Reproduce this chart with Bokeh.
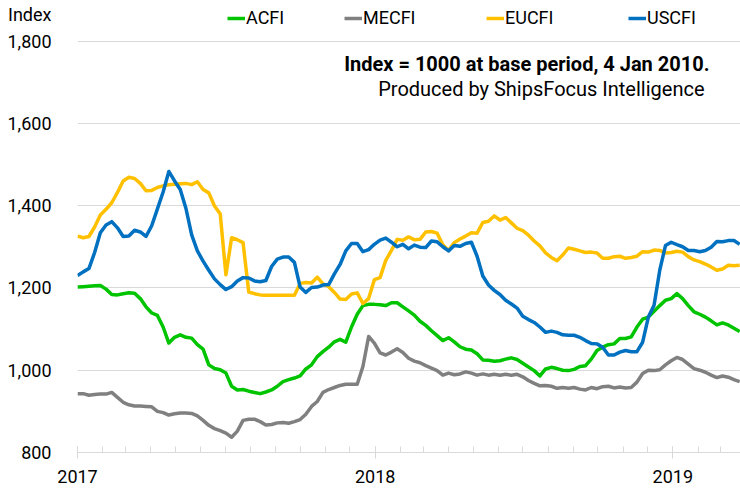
import pandas as pd
from bokeh.plotting import figure
from bokeh.models import (Range1d, FixedTicker, NumeralTickFormatter, DatetimeTickFormatter,
                          Label, Legend, LegendItem)
from bokeh.embed import file_html
from bokeh.resources import INLINE

# ---- data (weekly) ----
dates = pd.date_range("2017-01-01", periods=117, freq="7D")

acfi = [1202, 1203, 1204, 1205, 1206, 1197, 1184, 1183, 1186, 1188,
        1187, 1174, 1154, 1139, 1133, 1105, 1066, 1080, 1086, 1080,
        1078, 1062, 1051, 1013, 1004, 1001, 993, 961, 952, 953,
        949, 946, 943, 947, 952, 961, 972, 977, 981, 986,
        1003, 1013, 1033, 1045, 1056, 1069, 1075, 1068, 1105, 1136,
        1157, 1160, 1160, 1159, 1157, 1164, 1164, 1154, 1144, 1134,
        1119, 1109, 1096, 1084, 1072, 1079, 1069, 1057, 1051, 1049,
        1040, 1025, 1024, 1022, 1023, 1027, 1030, 1026, 1017, 1008,
        999, 986, 1003, 1007, 1004, 1000, 999, 1002, 1009, 1011,
        1027, 1048, 1056, 1062, 1064, 1077, 1077, 1081, 1105, 1124,
        1129, 1143, 1157, 1170, 1174, 1186, 1174, 1157, 1142, 1136,
        1129, 1120, 1110, 1115, 1110, 1102, 1094]

mecfi = [943, 943, 939, 941, 942, 942, 946, 934, 922, 916,
         913, 913, 912, 911, 900, 897, 891, 894, 896, 896,
         895, 889, 878, 866, 858, 853, 847, 837, 852, 878,
         881, 881, 875, 867, 868, 872, 873, 871, 875, 880,
         893, 912, 924, 946, 953, 958, 963, 966, 966, 966,
         1009, 1082, 1066, 1042, 1037, 1044, 1052, 1043, 1029, 1022,
         1018, 1011, 1005, 999, 988, 993, 989, 991, 996, 993,
         988, 991, 988, 990, 988, 990, 988, 990, 984, 975,
         968, 962, 963, 961, 956, 958, 956, 958, 954, 952,
         958, 955, 960, 961, 957, 959, 957, 958, 971, 992,
         1000, 999, 1001, 1013, 1023, 1031, 1026, 1015, 1004, 1000,
         995, 988, 982, 986, 983, 977, 972]

eucfi = [1326, 1322, 1325, 1348, 1377, 1391, 1407, 1432, 1460, 1469,
         1466, 1454, 1436, 1437, 1444, 1448, 1451, 1452, 1453, 1454,
         1451, 1458, 1439, 1431, 1399, 1380, 1232, 1322, 1317, 1310,
         1190, 1186, 1183, 1182, 1182, 1182, 1182, 1182, 1182, 1211,
         1213, 1212, 1226, 1210, 1203, 1189, 1173, 1172, 1185, 1188,
         1162, 1174, 1220, 1225, 1267, 1291, 1318, 1316, 1324, 1317,
         1318, 1336, 1337, 1333, 1305, 1291, 1310, 1319, 1326, 1334,
         1333, 1359, 1362, 1375, 1365, 1371, 1358, 1345, 1339, 1328,
         1314, 1302, 1285, 1274, 1266, 1280, 1297, 1294, 1290, 1286,
         1287, 1285, 1272, 1272, 1276, 1277, 1272, 1274, 1277, 1288,
         1287, 1292, 1291, 1285, 1286, 1289, 1287, 1276, 1268, 1264,
         1258, 1251, 1243, 1246, 1255, 1254, 1255]

uscfi = [1230, 1239, 1247, 1286, 1334, 1353, 1361, 1346, 1325, 1326,
         1340, 1336, 1325, 1351, 1392, 1433, 1483, 1460, 1439, 1393,
         1329, 1290, 1265, 1243, 1222, 1208, 1196, 1203, 1217, 1225,
         1224, 1217, 1215, 1218, 1252, 1270, 1275, 1275, 1262, 1202,
         1189, 1201, 1202, 1207, 1208, 1234, 1257, 1290, 1308, 1308,
         1288, 1293, 1306, 1316, 1321, 1311, 1300, 1306, 1295, 1304,
         1299, 1298, 1314, 1312, 1300, 1290, 1303, 1301, 1308, 1311,
         1277, 1229, 1207, 1194, 1184, 1170, 1161, 1151, 1131, 1123,
         1116, 1105, 1092, 1095, 1092, 1086, 1085, 1085, 1080, 1072,
         1065, 1064, 1056, 1037, 1037, 1044, 1048, 1045, 1045, 1068,
         1129, 1158, 1243, 1303, 1311, 1305, 1300, 1291, 1291, 1288,
         1291, 1299, 1313, 1312, 1315, 1315, 1306]

series_names = ["ACFI", "MECFI", "EUCFI", "USCFI"]
series_values = [acfi, mecfi, eucfi, uscfi]
series_colors = ["#00C400", "#808080", "#FFC000", "#0070C0"]

y_ticks = [800, 1000, 1200, 1400, 1600, 1800]
y_unit_label = "Index"
year_ticks = ["2017-01-01", "2018-01-01", "2019-01-01"]
x_start, x_end = "2017-01-01", "2019-03-25"

FONT = "Roboto"

def ms(s):
    return pd.Timestamp(s).value // 10**6

# frame: left 77, bottom 452, top 0 (800 -> 452px, 1800 -> ~40.5px)
Y_TOP = 1898.5
INDEX_POS = 1864.0

p = figure(width=740, height=491, x_axis_type="datetime",
           output_backend="svg", toolbar_location=None,
           x_range=Range1d(ms(x_start), ms(x_end)),
           y_range=Range1d(y_ticks[0], Y_TOP),
           min_border_left=77, min_border_right=0,
           min_border_top=0, min_border_bottom=39)
p.outline_line_color = None
p.background_fill_color = "white"
p.border_fill_color = "white"
p.xgrid.visible = False
p.ygrid.ticker = FixedTicker(ticks=y_ticks)
p.ygrid.grid_line_color = "#d9d9d9"
p.ygrid.grid_line_width = 1

# y axis (the "Index" unit label sits as the top label)
p.yaxis.ticker = FixedTicker(ticks=y_ticks + [INDEX_POS])
p.yaxis.formatter = NumeralTickFormatter(format="0,0")
p.yaxis.major_label_overrides = {INDEX_POS: y_unit_label}
p.yaxis.axis_line_color = None
p.yaxis.major_tick_line_color = None
p.yaxis.minor_tick_line_color = None
p.yaxis.major_label_standoff = 20
p.yaxis.major_label_text_font = FONT
p.yaxis.major_label_text_font_size = "18px"
p.yaxis.major_label_text_color = "#000000"

# x axis
month_ticks = [ms(d) for d in pd.date_range(x_start, x_end, freq="MS")]
p.xaxis.ticker = FixedTicker(ticks=[ms(d) for d in year_ticks], minor_ticks=month_ticks)
p.xaxis.formatter = DatetimeTickFormatter(years="%Y", months="%Y", days="%Y",
                                          hours="%Y", minutes="%Y", seconds="%Y",
                                          milliseconds="%Y")
p.xaxis.axis_line_color = "#d9d9d9"
p.xaxis.major_tick_line_color = "#d9d9d9"
p.xaxis.minor_tick_line_color = "#d9d9d9"
p.xaxis.major_tick_in = 6
p.xaxis.major_tick_out = 6
p.xaxis.minor_tick_in = 6
p.xaxis.minor_tick_out = 0
p.xaxis.major_label_standoff = 11
p.xaxis.major_label_text_font = FONT
p.xaxis.major_label_text_font_size = "18px"
p.xaxis.major_label_text_color = "#000000"

renderers = []
for name, vals, col in zip(series_names, series_values, series_colors):
    r = p.line(dates, vals, line_color=col, line_width=3.5, line_join="round")
    renderers.append(r)

# legend items placed individually (screen px from frame bottom-left)
legend_x = [150, 267, 409, 551]
for name, r, lx in zip(series_names, renderers, legend_x):
    leg = Legend(items=[LegendItem(label=name, renderers=[r])], location=(lx, 424),
                 orientation="horizontal", glyph_width=18, glyph_height=20,
                 label_standoff=1, padding=0, margin=0, spacing=0,
                 border_line_color=None, background_fill_alpha=0,
                 label_text_font=FONT, label_text_font_size="18px",
                 label_text_color="#000000", label_height=20)
    p.add_layout(leg)

p.add_layout(Label(x=632, y=389, x_units="screen", y_units="screen",
                   text="Index = 1000 at base period, 4 Jan 2010.",
                   text_font=FONT, text_font_size="20px", text_font_style="bold",
                   text_color="#000000", text_baseline="middle", text_align="right"))
p.add_layout(Label(x=627, y=364, x_units="screen", y_units="screen",
                   text="Produced by ShipsFocus Intelligence",
                   text_font=FONT, text_font_size="20px", text_color="#000000",
                   text_baseline="middle", text_align="right"))

open("out.html", "w").write(file_html(p, INLINE))
